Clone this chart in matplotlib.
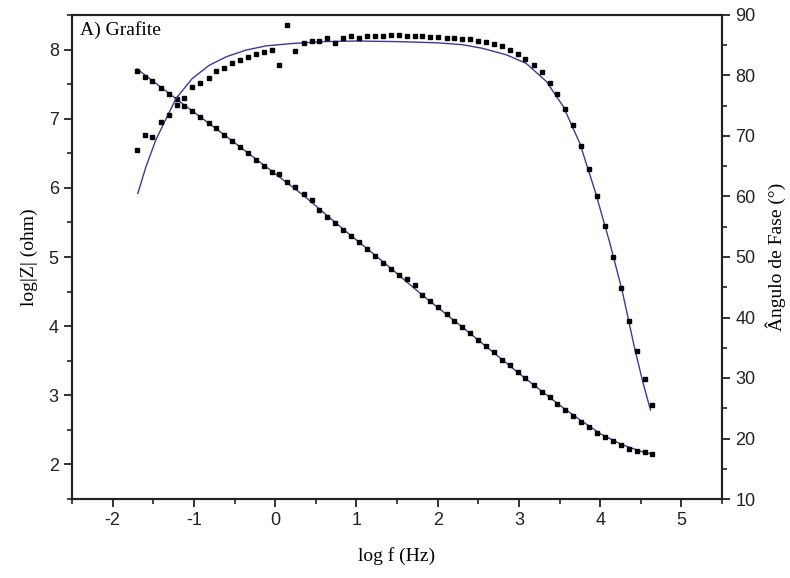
import matplotlib
matplotlib.use("Agg")
import matplotlib.pyplot as plt
from matplotlib.ticker import MultipleLocator

plt.rcParams["axes.unicode_minus"] = False

# log f (Hz) of the measured points
log_f = [-1.70, -1.60, -1.51, -1.41, -1.31, -1.21, -1.12, -1.02, -0.92, -0.82,
         -0.73, -0.63, -0.53, -0.43, -0.34, -0.24, -0.14, -0.04, 0.05, 0.15,
         0.25, 0.35, 0.45, 0.54, 0.64, 0.74, 0.84, 0.93, 1.03, 1.13,
         1.23, 1.33, 1.42, 1.52, 1.62, 1.72, 1.81, 1.91, 2.01, 2.11,
         2.20, 2.30, 2.40, 2.50, 2.59, 2.69, 2.79, 2.89, 2.99, 3.08,
         3.18, 3.28, 3.38, 3.47, 3.57, 3.67, 3.77, 3.86, 3.96, 4.06,
         4.16, 4.26, 4.35, 4.45, 4.55, 4.64]

# log|Z| (ohm) measured
log_z = [7.69, 7.60, 7.54, 7.44, 7.36, 7.29, 7.19, 7.11, 7.03, 6.94,
         6.86, 6.76, 6.68, 6.59, 6.50, 6.41, 6.32, 6.23, 6.20, 6.08,
         6.01, 5.91, 5.83, 5.68, 5.58, 5.49, 5.39, 5.30, 5.21, 5.11,
         5.02, 4.92, 4.83, 4.74, 4.68, 4.59, 4.45, 4.36, 4.27, 4.18,
         4.08, 3.99, 3.90, 3.80, 3.71, 3.62, 3.51, 3.44, 3.34, 3.25,
         3.15, 3.05, 2.97, 2.88, 2.79, 2.70, 2.62, 2.54, 2.46, 2.40,
         2.34, 2.28, 2.23, 2.20, 2.18, 2.15]

# phase angle (deg) measured
phase = [67.7, 70.1, 69.8, 72.3, 73.4, 75.2, 76.2, 78.1, 78.8, 79.6,
         80.7, 81.2, 82.0, 82.6, 83.0, 83.5, 83.9, 84.2, 81.7, 88.4,
         84.1, 85.3, 85.7, 85.75, 86.25, 85.4, 86.25, 86.6, 86.25, 86.5,
         86.6, 86.6, 86.7, 86.7, 86.6, 86.6, 86.6, 86.4, 86.3, 86.2,
         86.15, 86.1, 86.0, 85.75, 85.5, 85.2, 84.8, 84.2, 83.55, 82.7,
         81.8, 80.5, 78.8, 76.9, 74.5, 71.8, 68.35, 64.5, 60.0, 55.2,
         50.05, 44.8, 39.4, 34.4, 29.8, 25.6]

# fitted curves
zfit_x = [-1.70, -1.12, -0.63, -0.14, 0.35, 0.84, 1.33, 1.81, 2.30, 2.79,
          3.03, 3.28, 3.52, 3.77, 4.01, 4.26, 4.50, 4.64]
zfit_y = [7.72, 7.20, 6.77, 6.33, 5.89, 5.40, 4.93, 4.45, 3.99, 3.52,
          3.29, 3.06, 2.84, 2.63, 2.44, 2.29, 2.19, 2.15]

pfit_x = [-1.69, -1.59, -1.47, -1.34, -1.22, -1.02, -0.81, -0.60, -0.36, -0.11,
          0.22, 0.60, 1.00, 1.50, 2.00, 2.30, 2.55, 2.85, 3.09, 3.34,
          3.55, 3.75, 3.94, 4.12, 4.27, 4.43, 4.53, 4.62]
pfit_y = [60.5, 64.9, 69.3, 72.9, 76.2, 79.5, 81.7, 83.1, 84.2, 84.9,
          85.3, 85.6, 85.7, 85.6, 85.4, 85.1, 84.5, 83.4, 82.0, 79.0,
          74.8, 68.8, 60.8, 52.3, 44.5, 34.6, 29.1, 24.7]

x_ticks = [-2, -1, 0, 1, 2, 3, 4, 5]
z_ticks = [2, 3, 4, 5, 6, 7, 8]
p_ticks = [10, 20, 30, 40, 50, 60, 70, 80, 90]

line_col = "#3b3b98"
serif = ["Liberation Serif", "DejaVu Serif"]
sans = ["Liberation Sans", "DejaVu Sans"]

fig = plt.figure(figsize=(7.9, 5.78), dpi=100)
ax = fig.add_axes([72 / 790, 1 - 499 / 578, 650 / 790, 484 / 578])
ax2 = ax.twinx()

ax.plot(zfit_x, zfit_y, color=line_col, lw=1.0, zorder=2)
ax.plot(log_f, log_z, ls="none", marker="s", ms=2.8, color="black", zorder=3)
ax2.plot(pfit_x, pfit_y, color=line_col, lw=1.0, zorder=2)
ax2.plot(log_f, phase, ls="none", marker="s", ms=2.8, color="black", zorder=3)

ax.set_xlim(-2.5, 5.5)
ax.set_ylim(1.5, 8.5)
ax2.set_ylim(10, 90)

ax.set_xticks(x_ticks)
ax.set_yticks(z_ticks)
ax2.set_yticks(p_ticks)
ax.xaxis.set_minor_locator(MultipleLocator(0.5))
ax.yaxis.set_minor_locator(MultipleLocator(0.5))
ax2.yaxis.set_minor_locator(MultipleLocator(5))

for a in (ax, ax2):
    for s in a.spines.values():
        s.set_linewidth(1.5)
        s.set_color("#222222")
    a.tick_params(which="major", direction="out", length=6, width=1.3,
                  labelsize=13, colors="#222222")
    a.tick_params(which="minor", direction="out", length=3.5, width=1.2,
                  colors="#222222")
ax.tick_params(top=False, which="both")
ax.tick_params(axis="y", right=False, which="both")
for lab in ax.get_xticklabels() + ax.get_yticklabels() + ax2.get_yticklabels():
    lab.set_family(sans)

ax.set_xlabel("log f (Hz)", family=serif, fontsize=14, labelpad=13)
ax.set_ylabel("log|Z| (ohm)", family=serif, fontsize=14, labelpad=8)
ax2.set_ylabel("Ângulo de Fase (°)", family=serif, fontsize=14, labelpad=7)

ax.text(0.012, 0.968, "A) Grafite", transform=ax.transAxes, family=serif,
        fontsize=14, va="center", ha="left")

fig.savefig("out.png", dpi=100)
